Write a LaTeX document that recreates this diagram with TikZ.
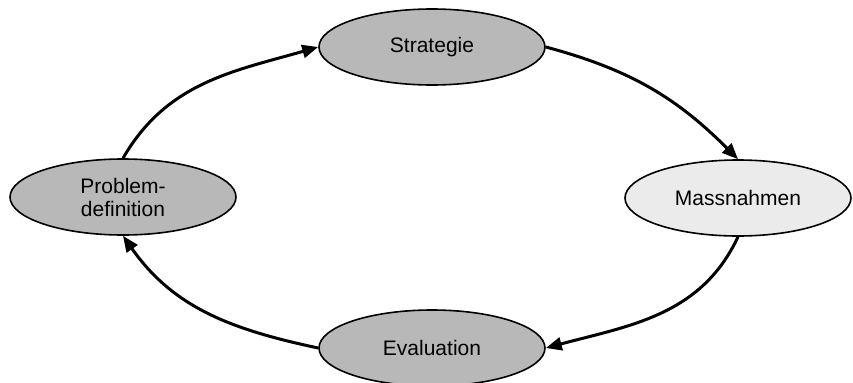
\documentclass[tikz,border=0pt]{standalone}
\usepackage{fontspec}
\setmainfont{Liberation Sans}
\usetikzlibrary{shapes.geometric,arrows.meta}

\definecolor{stagegray}{gray}{0.72}
\definecolor{stagelight}{gray}{0.92}

\tikzstyle{stage}=[draw,line width=0.8pt,ellipse,inner sep=0pt,
    minimum width=113pt,minimum height=38pt,align=center,
    font=\fontsize{10.5}{11.5}\selectfont]
\tikzstyle{edge} = [draw,line width=1.5pt,-{Triangle[length=8pt,width=6.5pt]}]
\newcommand{\cyclepx}{0.5pt}

\begin{document}
\begin{tikzpicture}[x=\cyclepx, y=\cyclepx]
    \useasboundingbox (0,0) rectangle (853,382);
    % First we draw the stages of the cycle
    \foreach \pos/\name/\shade/\txt in {{(432,335)/strat/stagegray/Strategie},
        {(738,184)/mass/stagelight/Massnahmen},
        {(432,34)/eval/stagegray/Evaluation},
        {(123,185)/prob/stagegray/{Problem-\\definition}}}
        \node[stage, fill=\shade] (\name) at \pos {\txt};
    % Connect the stages with curved arrows
    \foreach \source/ \dest /\out/\in in {prob.north/strat.west/60/196,
        strat.east/mass.north/-15/135,
        mass.south/eval.east/-115/15,
        eval.west/prob.south/168/-55}
        \path[edge] (\source) to[out=\out, in=\in] (\dest);
\end{tikzpicture}
\end{document}
